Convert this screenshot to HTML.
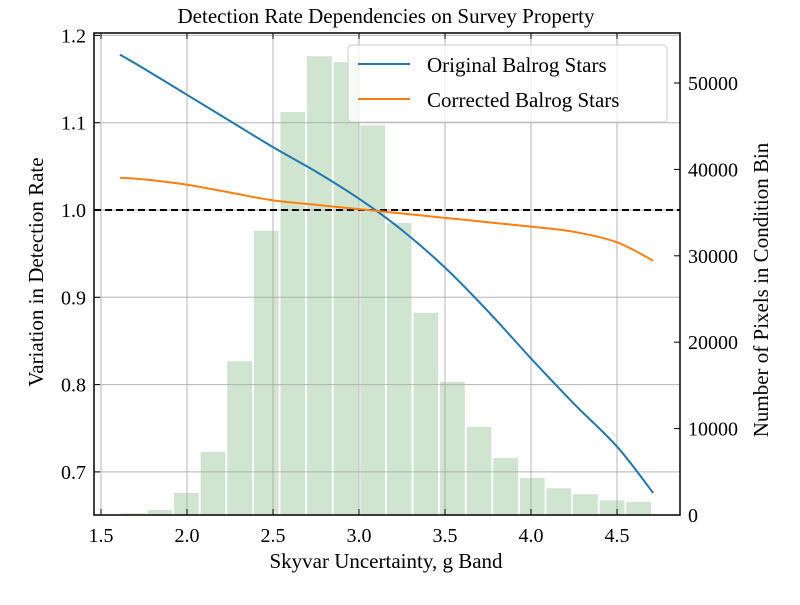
<!DOCTYPE html>
<html><head><meta charset="utf-8"><style>
body{margin:0;background:#fff;}
svg text{font-family:"Liberation Serif","DejaVu Serif",serif;fill:#000;}
</style></head><body>
<svg id="chart" width="800" height="600" xmlns="http://www.w3.org/2000/svg"></svg>
<script>
const binStart = 1.61, binEnd = 4.703;
const binCounts = [200,580,2550,7300,17800,32900,46650,53100,52400,45100,33800,23400,15400,10200,6600,4300,3100,2400,1700,1500];
const lineX = [1.61,1.75,2.0,2.25,2.5,2.75,3.0,3.25,3.5,3.75,4.0,4.25,4.5,4.71];
const originalY = [1.178,1.162,1.132,1.102,1.072,1.044,1.013,0.977,0.934,0.884,0.830,0.778,0.729,0.676];
const correctedY = [1.037,1.035,1.029,1.020,1.011,1.006,1.001,0.996,0.991,0.986,0.981,0.975,0.963,0.942];
const xTicks = [1.5,2.0,2.5,3.0,3.5,4.0,4.5];
const yTicks = [0.7,0.8,0.9,1.0,1.1,1.2];
const y2Ticks = [0,10000,20000,30000,40000,50000];
const L=94,R=680,T=33,B=515;
const xs=v=>101+(v-1.5)*172;
const ys=v=>210-(v-1.0)*873;
const y2s=v=>515-v*86.4/10000;
const svg=document.getElementById('chart');
const NS='http://www.w3.org/2000/svg';
function mk(tag,attrs,parent){const e=document.createElementNS(NS,tag);for(const k in attrs)e.setAttribute(k,attrs[k]);(parent||svg).appendChild(e);return e;}
function txt(s,attrs){const e=mk('text',attrs);e.textContent=s;return e;}
// bars
const bw=(binEnd-binStart)/binCounts.length;
binCounts.forEach((c,i)=>{const x0=xs(binStart+i*bw),x1=xs(binStart+(i+1)*bw);const w=(x1-x0)*0.93;
const r=mk('rect',{x:x0+(x1-x0-w)/2,y:y2s(c),width:w,height:B-y2s(c),fill:'#cfe5cf'});

});
// grid
xTicks.forEach(v=>{const g=mk('line',{x1:xs(v),x2:xs(v),y1:T,y2:B,stroke:'#a8a8a8','stroke-opacity':0.85,'stroke-width':1});

});
yTicks.forEach(v=>{const g=mk('line',{x1:L,x2:R,y1:ys(v),y2:ys(v),stroke:'#a8a8a8','stroke-opacity':0.85,'stroke-width':1});

});
// dashed line at 1.0
const d=mk('line',{x1:L,x2:R,y1:ys(1),y2:ys(1),stroke:'#000','stroke-width':2,'stroke-dasharray':'7,4'});


// series (smooth Catmull-Rom)
function path(arr){const P=lineX.map((x,i)=>[xs(x),ys(arr[i])]);let p='M'+P[0][0].toFixed(1)+','+P[0][1].toFixed(1);
for(let i=0;i<P.length-1;i++){const p0=P[Math.max(0,i-1)],p1=P[i],p2=P[i+1],p3=P[Math.min(P.length-1,i+2)];
const c1=[p1[0]+(p2[0]-p0[0])/6,p1[1]+(p2[1]-p0[1])/6],c2=[p2[0]-(p3[0]-p1[0])/6,p2[1]-(p3[1]-p1[1])/6];
p+='C'+c1[0].toFixed(1)+','+c1[1].toFixed(1)+' '+c2[0].toFixed(1)+','+c2[1].toFixed(1)+' '+p2[0].toFixed(1)+','+p2[1].toFixed(1);}
return p;}
const p1=mk('path',{d:path(originalY),fill:'none',stroke:'#1f77b4','stroke-width':2,'stroke-linejoin':'round'});


const p2=mk('path',{d:path(correctedY),fill:'none',stroke:'#ff7f0e','stroke-width':2,'stroke-linejoin':'round'});


// frame
const f=mk('rect',{x:L,y:T,width:R-L,height:B-T,fill:'none',stroke:'#000','stroke-width':1.5});


// ticks
xTicks.forEach(v=>{mk('line',{x1:xs(v),x2:xs(v),y1:B,y2:B-6,stroke:'#000'});mk('line',{x1:xs(v),x2:xs(v),y1:T,y2:T+6,stroke:'#000'});
const t=txt(v.toFixed(1),{x:xs(v),y:B+27,'font-size':20,'text-anchor':'middle'});

});
yTicks.forEach(v=>{mk('line',{x1:L,x2:L+6,y1:ys(v),y2:ys(v),stroke:'#000'});
const t=txt(v.toFixed(1),{x:L-8,y:ys(v)+7,'font-size':20,'text-anchor':'end'});

});
y2Ticks.forEach(v=>{mk('line',{x1:R,x2:R-6,y1:y2s(v),y2:y2s(v),stroke:'#000'});
const t=txt(String(v),{x:R+8,y:y2s(v)+7,'font-size':20,'text-anchor':'start'});

});
</script>
<svg style="position:absolute;left:0;top:0" width="800" height="600" xmlns="http://www.w3.org/2000/svg">
<text x="386" y="23" font-size="21" text-anchor="middle">Detection Rate Dependencies on Survey Property</text>
<text x="386" y="568" font-size="21" text-anchor="middle">Skyvar Uncertainty, g Band</text>
<text transform="translate(43,272) rotate(-90)" font-size="21" text-anchor="middle">Variation in Detection Rate</text>
<text transform="translate(768,290) rotate(-90)" font-size="21" text-anchor="middle">Number of Pixels in Condition Bin</text>
<g>
<rect x="348" y="45" width="319" height="77" rx="4" fill="#fff" fill-opacity="0.8" stroke="#ccc"/>
<line x1="358" x2="410" y1="64" y2="64" stroke="#1f77b4" stroke-width="2"/>
<text x="427" y="72" font-size="21">Original Balrog Stars</text>
<line x1="358" x2="410" y1="99" y2="99" stroke="#ff7f0e" stroke-width="2"/>
<text x="427" y="107" font-size="21">Corrected Balrog Stars</text>
</g>
</svg>
</body></html>
